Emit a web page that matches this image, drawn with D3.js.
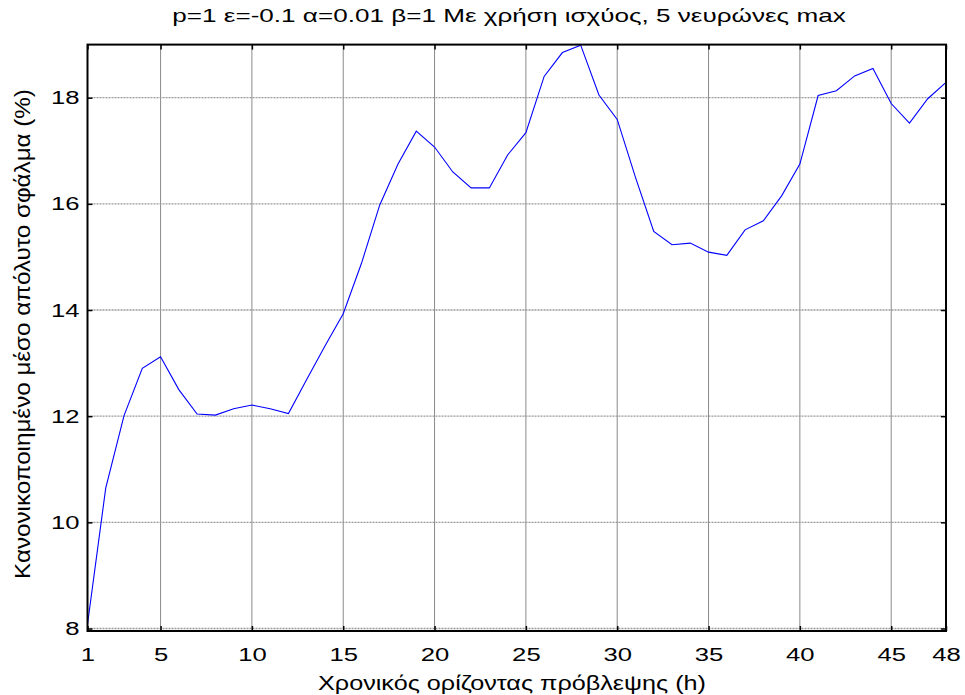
<!DOCTYPE html>
<html>
<head>
<meta charset="utf-8">
<script src="https://cdn.jsdelivr.net/npm/d3@7"></script>
<style>
  html, body { margin: 0; padding: 0; background: #fff; }
  svg { display: block; }
  text { font-family: "Liberation Sans", Arial, sans-serif; fill: #000; }
</style>
</head>
<body>
<svg id="chart" width="965" height="695"></svg>
<script>
// Forecast horizon (hours) and normalised mean absolute error (%)
const hours = d3.range(1, 49);
const errorPct = [
  8.08, 10.65, 12.01, 12.90, 13.12, 12.50, 12.04, 12.02, 12.14, 12.21,
  12.14, 12.05, 12.69, 13.32, 13.93, 14.88, 15.98, 16.75, 17.37, 17.07,
  16.60, 16.30, 16.30, 16.92, 17.34, 18.40, 18.85, 18.99, 18.05, 17.59,
  16.50, 15.48, 15.23, 15.26, 15.09, 15.03, 15.51, 15.68, 16.15, 16.75,
  18.04, 18.13, 18.41, 18.55, 17.89, 17.52, 17.98, 18.29
];
const xTicks = [1, 5, 10, 15, 20, 25, 30, 35, 40, 45, 48];
const yTicks = [8, 10, 12, 14, 16, 18];

const titleText = "p=1 ε=-0.1 α=0.01 β=1 Με χρήση ισχύος, 5 νευρώνες max";
const xLabel = "Χρονικός ορίζοντας πρόβλεψης (h)";
const yLabel = "Κανονικοποιημένο μέσο απόλυτο σφάλμα (%)";

const svg = d3.select("#chart");
const plotL = 87.5, plotR = 946, plotT = 44.6, plotB = 631;

const x = d3.scaleLinear().domain([1, 48]).range([plotL, plotR]);
const y = d3.scaleLinear().domain([7.953, 19]).range([plotB, plotT]);

// widen text horizontally about its anchor point
function stretch(sel, sx) {
  sel.each(function () {
    const t = d3.select(this);
    const tx = +t.attr("x") || 0, ty = +t.attr("y") || 0;
    t.attr("x", 0).attr("y", 0)
     .attr("transform", `translate(${tx},${ty}) scale(${sx},1)`);
  });
}

// grid
const grid = svg.append("g");
grid.selectAll("line.vx").data(xTicks.filter(t => t !== 1 && t !== 48)).join("line")
  .attr("x1", d => x(d)).attr("x2", d => x(d))
  .attr("y1", plotT).attr("y2", plotB)
  .attr("stroke", "#8a8a8a").attr("stroke-width", 1);
grid.selectAll("line.hy").data(yTicks).join("line")
  .attr("x1", plotL).attr("x2", plotR)
  .attr("y1", d => y(d)).attr("y2", d => y(d))
  .attr("stroke", "#999").attr("stroke-width", 1.3)
  .attr("stroke-dasharray", "2,1");

// data line
svg.append("path")
  .datum(hours.map((h, i) => [h, errorPct[i]]))
  .attr("fill", "none")
  .attr("stroke", "#0000ff")
  .attr("stroke-width", 1.1)
  .attr("d", d3.line().x(d => x(d[0])).y(d => y(d[1])));

// axes with inward ticks on all four sides
const tickLen = 5;
const fmt = d3.format("d");
const xb = svg.append("g").attr("transform", `translate(0,${plotB})`)
  .call(d3.axisBottom(x).tickValues(xTicks).tickFormat(fmt).tickSizeInner(-tickLen).tickSizeOuter(0).tickPadding(17));
const xt = svg.append("g").attr("transform", `translate(0,${plotT})`)
  .call(d3.axisTop(x).tickValues(xTicks).tickFormat("").tickSizeInner(-tickLen).tickSizeOuter(0));
const yl = svg.append("g").attr("transform", `translate(${plotL},0)`)
  .call(d3.axisLeft(y).tickValues(yTicks).tickFormat(fmt).tickSizeInner(-tickLen).tickSizeOuter(0).tickPadding(8));
const yr = svg.append("g").attr("transform", `translate(${plotR},0)`)
  .call(d3.axisRight(y).tickValues(yTicks).tickFormat("").tickSizeInner(-tickLen).tickSizeOuter(0));

[xb, xt, yl, yr].forEach(g => {
  g.select(".domain").remove();
  g.selectAll(".tick line").attr("stroke", "#000").attr("stroke-width", 1.5);
  g.selectAll(".tick text").attr("font-size", 19).attr("font-family", "Liberation Sans, Arial, sans-serif").attr("fill", "#000");
});
stretch(xb.selectAll(".tick text"), 1.35);
stretch(yl.selectAll(".tick text"), 1.35);

// frame
svg.append("rect")
  .attr("x", plotL).attr("y", plotT)
  .attr("width", plotR - plotL).attr("height", plotB - plotT)
  .attr("fill", "none").attr("stroke", "#000").attr("stroke-width", 2);

// labels
svg.append("text").attr("x", 509).attr("y", 22).attr("text-anchor", "middle")
  .attr("font-size", 18.5).text(titleText)
  .call(stretch, 1.41);
svg.append("text").attr("x", 512).attr("y", 690).attr("text-anchor", "middle")
  .attr("font-size", 21).text(xLabel)
  .call(stretch, 1.2);
svg.append("text").attr("transform", `translate(30,334) rotate(-90) scale(1.1,1)`)
  .attr("text-anchor", "middle").attr("font-size", 22).text(yLabel);
</script>
</body>
</html>
